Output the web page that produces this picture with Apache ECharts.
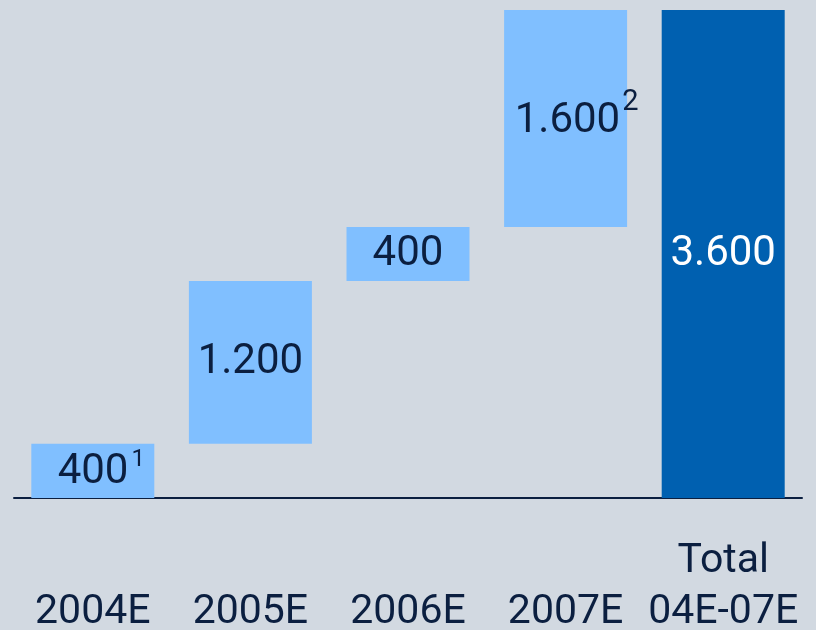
<!DOCTYPE html>
<html>
<head>
<meta charset="utf-8">
<script src="https://cdn.jsdelivr.net/npm/echarts@6/dist/echarts.min.js"></script>
<style>
html,body{margin:0;padding:0;background:#d2d9e1;}
#chart{width:816px;height:630px;}
</style>
</head>
<body>
<div id="chart"></div>
<script>
// Data
var categories = ['2004E', '2005E', '2006E', '2007E', 'Total\n04E-07E'];
var values = [400, 1200, 400, 1600, 3600];
var valueLabels = ['400', '1.200', '400', '1.600', '3.600'];
var footnotes = ['1', '', '', '2', ''];
var isTotal = [false, false, false, false, true];

// Waterfall base from running sum
var bases = [];
var run = 0;
for (var i = 0; i < values.length; i++) {
  if (isTotal[i]) { bases.push(0); }
  else { bases.push(run); run += values[i]; }
}

var NAVY = '#0b1f40';
var LIGHT = '#80bfff';
var DARK = '#0060b0';
var FONT = 'Roboto';

var barData = values.map(function (v, i) {
  var item = {
    value: v,
    itemStyle: { color: isTotal[i] ? DARK : LIGHT }
  };
  var lab = { color: isTotal[i] ? '#ffffff' : NAVY };
  if (footnotes[i] === '1') {
    lab.formatter = '{pad1| }{v|' + valueLabels[i] + '}{s|' + footnotes[i] + '}';
  } else if (footnotes[i] === '2') {
    lab.formatter = '{pad2| }{v|' + valueLabels[i] + '}{s2|' + footnotes[i] + '}';
    lab.offset = [2, -3];
  } else {
    lab.formatter = '{v|' + valueLabels[i] + '}';
  }
  item.label = lab;
  return item;
});

var chart = echarts.init(document.getElementById('chart'), null, { renderer: 'canvas' });
chart.setOption({
  backgroundColor: '#d2d9e1',
  animation: false,
  grid: { left: 14, right: 14, top: 10, bottom: 132, containLabel: false, outerBoundsMode: 'none' },
  xAxis: {
    type: 'category',
    data: categories,
    axisTick: { show: false },
    axisLine: { lineStyle: { color: NAVY, width: 2 } },
    axisLabel: {
      interval: 0,
      margin: 38,
      color: NAVY,
      fontFamily: FONT,
      fontSize: 41,
      lineHeight: 51,
      formatter: function (v) { return v.indexOf('\n') < 0 ? '\n' + v : v; }
    }
  },
  yAxis: {
    type: 'value', min: 0, max: 3600, show: false,
    splitLine: { show: false }
  },
  series: [
    {
      type: 'bar', stack: 'w', data: bases, barWidth: 123, silent: true,
      itemStyle: { color: 'rgba(0,0,0,0)' }
    },
    {
      type: 'bar', stack: 'w', data: barData, barWidth: 123,
      label: {
        show: true, position: 'inside',
        fontFamily: FONT, fontSize: 41,
        rich: {
          v: { fontFamily: FONT, fontSize: 42, lineHeight: 42, verticalAlign: 'bottom' },
          s: { fontFamily: FONT, fontSize: 24, lineHeight: 24, verticalAlign: 'top', padding: [0, 0, 0, 3] },
          s2: { fontFamily: FONT, fontSize: 29, lineHeight: 29, verticalAlign: 'top', padding: [0, 0, 0, 2] },
          pad1: { width: 17, lineHeight: 46, fontSize: 10 },
          pad2: { width: 18, lineHeight: 55, fontSize: 10 }
        }
      }
    }
  ]
});
</script>
</body>
</html>
